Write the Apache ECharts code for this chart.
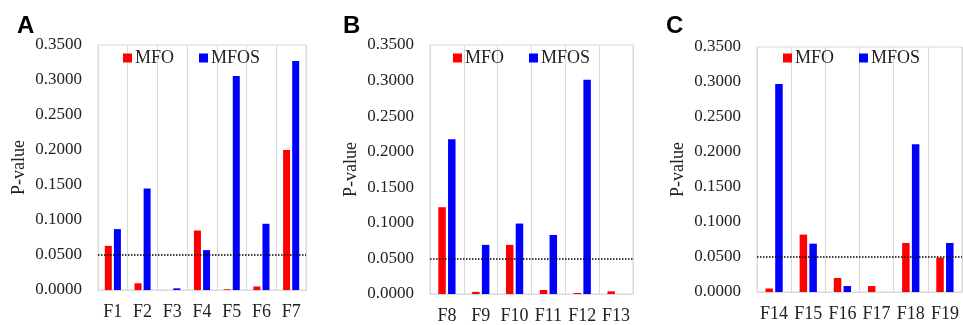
<!DOCTYPE html>
<html>
<head>
<meta charset="utf-8">
<script src="https://cdn.jsdelivr.net/npm/echarts@6/dist/echarts.min.js"></script>
<style>
  html, body { margin: 0; padding: 0; background: #fff; }
  #main { width: 963px; height: 325px; }
</style>
</head>
<body>
<div id="main"></div>
<script>
// data
var catsA = ['F1', 'F2', 'F3', 'F4', 'F5', 'F6', 'F7'];
var mfoA  = [0.063, 0.0096, 0, 0.085, 0.001, 0.005, 0.200];
var mfosA = [0.087, 0.145, 0.0024, 0.057, 0.3056, 0.0946, 0.327];

var catsB = ['F8', 'F9', 'F10', 'F11', 'F12', 'F13'];
var mfoB  = [0.122, 0.003, 0.069, 0.0056, 0.0014, 0.0037];
var mfosB = [0.2176, 0.069, 0.099, 0.083, 0.301, 0];

var catsC = ['F14', 'F15', 'F16', 'F17', 'F18', 'F19'];
var mfoC  = [0.005, 0.082, 0.020, 0.0085, 0.070, 0.049];
var mfosC = [0.297, 0.069, 0.0085, 0, 0.211, 0.070];

var threshold = 0.05;
var yTicks = { min: 0, max: 0.35, interval: 0.05 };

var serif = 'Liberation Serif';
var gray = '#d9d9d9';

var chart = echarts.init(document.getElementById('main'));

var grids = [
    { left: 98, top: 45, width: 208, height: 245, show: true, borderColor: gray, borderWidth: 1 },
    { left: 430, top: 45, width: 203, height: 252, show: true, borderColor: gray, borderWidth: 1 },
    { left: 757, top: 47, width: 205, height: 245, show: true, borderColor: gray, borderWidth: 1 }
];
var cats = [catsA, catsB, catsC];
var mfo = [mfoA, mfoB, mfoC];
var mfos = [mfosA, mfosB, mfosC];
var barW = [7, 7.5, 7.5];
var legendLeft = [123, 453, 783];
var letters = ['A', 'B', 'C'];
var letterLeft = [17, 343, 666];

var xAxes = [], yAxes = [], series = [], legends = [], graphics = [];
for (var i = 0; i < 3; i++) {
    xAxes.push({
        type: 'category',
        gridIndex: i,
        data: cats[i],
        axisLine: { lineStyle: { color: gray } },
        axisTick: { show: false },
        splitLine: { show: true, lineStyle: { color: gray } },
        axisLabel: { color: '#222', fontFamily: serif, fontSize: 18, margin: 13, interval: 0 }
    });
    yAxes.push({
        type: 'value',
        gridIndex: i,
        min: yTicks.min,
        max: yTicks.max,
        interval: yTicks.interval,
        name: 'P-value',
        nameLocation: 'middle',
        nameGap: 70,
        nameTextStyle: { color: '#222', fontFamily: serif, fontSize: 18 },
        axisLine: { show: false },
        axisTick: { show: false },
        splitLine: { show: false },
        axisLabel: {
            color: '#222', fontFamily: serif, fontSize: 17, margin: 16,
            formatter: function (v) { return v.toFixed(4); }
        }
    });
    series.push({
        name: 'MFO',
        type: 'bar',
        xAxisIndex: i,
        yAxisIndex: i,
        data: mfo[i],
        barWidth: barW[i],
        barGap: '30%',
        itemStyle: { color: '#ff0000' },
        markLine: {
            silent: true,
            symbol: 'none',
            label: { show: false },
            lineStyle: { color: '#000', type: [1.5, 1.5], width: 1.5 },
            data: [{ yAxis: threshold }]
        }
    });
    series.push({
        name: 'MFOS',
        type: 'bar',
        xAxisIndex: i,
        yAxisIndex: i,
        data: mfos[i],
        barWidth: barW[i],
        barGap: '30%',
        itemStyle: { color: '#0000ff' }
    });
    legends.push({
        left: legendLeft[i],
        top: 49,
        padding: 0,
        itemWidth: 9,
        itemHeight: 9,
        itemGap: 25,
        icon: 'rect',
        selectedMode: false,
        textStyle: { color: '#222', fontFamily: serif, fontSize: 18, padding: [0, 0, 0, -2] },
        data: ['MFO', 'MFOS']
    });
    graphics.push({
        type: 'text',
        left: letterLeft[i],
        top: 14,
        style: { text: letters[i], fill: '#000', font: 'bold 24px "Liberation Sans"' }
    });
}

chart.setOption({
    animation: false,
    grid: grids,
    xAxis: xAxes,
    yAxis: yAxes,
    legend: legends,
    graphic: graphics,
    series: series
});
</script>
</body>
</html>
